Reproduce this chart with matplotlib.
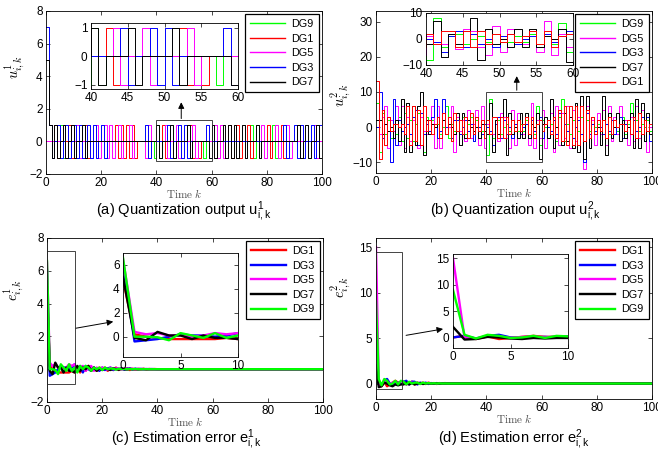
import matplotlib
matplotlib.use("Agg")
import matplotlib.pyplot as plt
from matplotlib.patches import Rectangle
import numpy as np

plt.rcParams.update({
    "font.family": ["Liberation Sans", "DejaVu Sans"],
    "mathtext.fontset": "cm",
    "font.size": 8.5,
    "axes.linewidth": 0.6,
    "xtick.direction": "in", "ytick.direction": "in",
    "xtick.top": True, "ytick.right": True,
    "xtick.major.size": 3, "ytick.major.size": 3,
    "xtick.major.width": 0.5, "ytick.major.width": 0.5,
    "xtick.major.pad": 2.5, "ytick.major.pad": 2.5,
    "legend.fontsize": 7.8,
})

# ---- data: quantization output u^1 (k = 0..100) ----
u1_dg9 = [0, 0, 0, 0, 0, 1, -1, 0, 0, 0,
          0, 0, 0, 0, 1, -1, 0, 0, 0, 0,
          0, 0, 0, 0, 0, 0, 0, 0, 0, 0,
          0, 0, 0, 0, 0, 0, 0, 0, 0, -1,
          1, -1, 0, 0, 0, 0, 0, 0, 0, 0,
          0, 0, 0, 0, 0, 0, 0, -1, 0, -1,
          0, 0, 0, 0, 0, 0, 0, 0, 0, 0,
          0, 0, 0, 0, 1, -1, 0, 0, 0, 0,
          0, 0, 1, -1, 0, 0, 0, 0, 0, 0,
          0, 0, 0, 0, 0, 0, 0, 0, 0, 0, 0]
u1_dg1 = [0, 0, 0, 1, -1, 0, 0, 0, 1, -1,
          0, 0, 0, 0, 1, -1, 0, 0, 0, 0,
          0, 0, 0, 0, 0, 1, -1, 1, -1, 1,
          -1, 1, -1, 0, 0, 0, 0, 0, 0, 0,
          0, 0, 1, -1, 0, 0, 0, 0, 0, 0,
          0, 0, 1, -1, 0, -1, 0, 0, 0, 0,
          0, 0, 0, 0, 0, 0, 1, -1, 0, 1,
          -1, 0, 0, 1, -1, 0, 0, 0, 0, 0,
          1, -1, 0, 0, 0, 1, -1, 0, 0, 0,
          0, 0, 0, 0, 0, 0, 0, 0, 0, 0, 0]
u1_dg5 = [0, 0, 0, 0, 0, 0, 1, -1, 0, 0,
          0, 1, -1, 0, 0, 0, 0, 0, 1, -1,
          0, 1, -1, 1, -1, 0, 1, -1, 0, 0,
          1, -1, 0, 0, 0, 0, -1, 1, 0, 0,
          0, 0, 0, 1, -1, 0, 0, 1, -1, 0,
          0, 0, 0, 1, -1, 0, 0, 0, 0, 0,
          0, 1, -1, 1, -1, 0, 0, 0, 0, 0,
          0, 0, 0, 0, 0, 0, 0, 0, 1, -1,
          0, 0, 0, 1, -1, 0, 0, 1, -1, 0,
          0, 0, 0, 0, 0, 0, 0, 1, -1, 0, 0]
u1_dg3 = [7, 1, -1, 0, 1, -1, 0, 1, -1, 0,
          1, -1, 1, -1, 0, 1, -1, 1, -1, 0,
          1, -1, 0, 0, 0, 0, 0, 0, 0, 0,
          0, 0, 0, 0, 0, 0, 1, -1, 0, 0,
          0, 0, 0, 0, 1, -1, 0, 0, 1, -1,
          1, -1, 0, 0, 0, 0, 0, 0, 1, -1,
          0, 0, 0, 0, 0, 0, 0, 0, 0, 0,
          0, 0, 0, 0, 0, 0, 0, 0, 0, 0,
          0, 0, 0, 0, 0, 0, 1, -1, 0, 0,
          1, -1, 1, -1, 0, 0, 1, -1, 0, 1, -1]
u1_dg7 = [5, 1, -1, 1, -1, 0, 1, -1, 0, 1,
          -1, 0, 0, 1, -1, 0, 0, 0, 0, 0,
          0, 0, 0, 0, 0, 0, 0, 0, 0, 0,
          0, 0, 0, 0, 0, 0, 0, 0, 0, 0,
          1, -1, 0, 0, 0, 1, -1, 0, 0, 0,
          0, 1, -1, 0, 0, 0, 0, 0, 0, -1,
          1, -1, 0, 0, 1, -1, 1, -1, 1, -1,
          0, 1, -1, 0, 0, 0, 1, -1, 0, 0,
          0, 0, 0, 0, 0, 0, 0, 0, 0, 0,
          0, 1, -1, 0, 1, -1, 0, 0, 1, -1, 0]

# ---- data: quantization output u^2 ----
u2_dg9 = [7, -7, 4, -2, 2, -3, 1, -2, 3, -4,
          4, -3, 2, -4, 1, 4, -5, -7, 3, -1,
          2, -6, 1, -2, 0, 6, -3, 1, -1, 2,
          -2, 3, -2, 1, 3, -4, 2, 0, -1, 1,
          -8, 8, -3, 1, 2, -2, 0, 1, -1, 2,
          0, -1, 1, -1, 2, -2, 3, -2, 6, -5,
          2, 0, -3, 1, 2, -4, 3, 8, -4, 1,
          -2, 2, 0, -1, 3, -4, 2, -1, 1, 0,
          1, -1, 2, 1, -2, 2, 0, -1, 1, 3,
          -2, 1, 7, -4, 2, -1, 1, 0, 2, -1, 0]
u2_dg5 = [0, -2, 3, 6, -6, 2, -1, 6, -5, 6,
          -6, 3, -4, 2, 5, -6, 3, -1, -2, 2,
          6, -6, 6, -6, 4, -2, 0, 6, -7, 3,
          -1, 2, -4, 5, -3, 1, 5, -5, 6, -6,
          1, -1, -2, 2, -4, 4, 3, -3, -6, 5,
          -5, 4, -2, -2, 3, -5, 7, -6, 2, -3,
          5, -6, 2, 4, -7, 6, -5, 4, -3, 6,
          -6, 5, -4, 3, 6, -12, 6, -3, 2, -5,
          4, -2, 5, -5, 6, -4, 3, -2, 6, -3,
          2, -5, 3, -4, 6, -3, 5, -4, -7, 0, 1]
u2_dg3 = [0, 10, -3, 1, 3, -10, 8, -5, 2, -1,
          0, 1, -2, 3, 5, -5, 4, -2, 1, -1,
          3, 8, -3, -1, 8, 0, 1, -3, 2, 2,
          -2, 0, 2, -1, 1, -4, 3, 0, -2, 1,
          0, -1, -5, 1, 3, -3, 2, -2, 0, -3,
          1, 2, -2, 0, 1, -3, 2, -1, 1, 3,
          -3, 1, 0, -1, 2, -2, 4, -4, 1, -1,
          3, -3, 0, 2, -2, -10, 4, -2, 1, -1,
          2, 0, -2, 1, -1, 2, -2, 0, 3, -3,
          1, 0, -2, 2, -1, 0, 3, -4, 3, -4, 0]
u2_dg7 = [2, 2, -2, 1, -1, 0, -3, 2, -4, 8,
          -7, 7, -7, 6, -5, 6, 10, -8, 2, -2,
          1, 0, 3, -3, 2, -2, 1, 0, -2, 4,
          -5, 4, -3, 2, 0, -1, 0, -3, 1, -1,
          -2, 7, -7, 2, -2, 3, 8, -8, 4, -2,
          0, -3, 4, -3, 4, -3, 1, 0, 4, -9,
          1, 3, -3, 8, -6, 0, 5, -5, 4, -4,
          3, -6, 7, -7, 9, -9, 9, -6, 3, -2,
          0, -5, 9, -8, 4, -3, 0, 4, -4, 2,
          -3, 0, 4, -6, 8, -6, 7, -4, 4, -2, 4]
u2_dg1 = [13, -9, 5, -5, 3, -1, 1, 1, 0, 1,
          -2, 6, -5, 6, -4, 5, -5, 6, -1, 2,
          -2, 1, 3, -3, 4, -2, 3, -4, 4, -1,
          2, -2, 3, -3, 4, -2, 3, -1, 2, -3,
          2, -2, 3, 3, -3, 3, -3, 3, -2, 2,
          -1, 2, -1, 1, 3, -2, 3, -3, 1, 2,
          -1, 1, 2, -2, 3, -3, 5, -4, 6, -5,
          6, -5, 6, -5, 6, -4, 5, -3, 3, -2,
          2, -1, 2, -3, 3, -2, 2, 0, 1, 1,
          -1, 2, -2, 3, -3, 4, -2, 2, -1, 1, 1]

# ---- data: estimation errors, k = 0..40, then settled ----
settled_tail = [0.0, 0.0, 0.0, 0.0, 0.0, 0.0, 0.0, 0.0, 0.0, 0.0,
                0.0, 0.0, 0.0, 0.0, 0.0, 0.0, 0.0, 0.0, 0.0, 0.0,
                0.0, 0.0, 0.0, 0.0, 0.0, 0.0, 0.0, 0.0, 0.0, 0.0,
                0.0, 0.0, 0.0, 0.0, 0.0, 0.0, 0.0, 0.0, 0.0, 0.0,
                0.0, 0.0, 0.0, 0.0, 0.0, 0.0, 0.0, 0.0, 0.0, 0.0,
                0.0, 0.0, 0.0, 0.0, 0.0, 0.0, 0.0, 0.0, 0.0, 0.0]

e1_dg1 = [4.8, 0.2, 0.0, -0.1, -0.2, -0.2, -0.2, -0.2, -0.2, -0.1,
          -0.2, 0.1, -0.2, 0.1, -0.1, 0.2, -0.1, 0.1, -0.1, 0.1,
          0.0, 0.1, -0.1, 0.05, -0.05, 0.1, -0.05, 0.05, 0.0, 0.05,
          -0.05, 0.03, -0.03, 0.02, 0.0, 0.02, -0.02, 0.01, 0.0, 0.01, 0.0]
e1_dg3 = [6.0, -0.4, -0.3, -0.2, 0.0, 0.2, 0.1, 0.1, 0.0, 0.1,
          0.3, -0.1, 0.2, -0.2, 0.2, 0.0, -0.1, 0.1, 0.0, -0.1,
          0.1, -0.05, 0.05, 0.1, -0.05, 0.05, 0.0, 0.05, -0.03, 0.03,
          0.05, -0.02, 0.03, 0.0, 0.02, -0.01, 0.01, 0.0, 0.01, 0.0, 0.0]
e1_dg5 = [6.5, 0.4, 0.2, 0.3, 0.1, 0.1, 0.0, 0.1, 0.3, 0.2,
          0.3, -0.1, 0.1, 0.2, -0.1, 0.1, 0.2, -0.1, 0.1, 0.0,
          0.1, 0.05, -0.05, 0.1, 0.0, 0.05, 0.05, -0.03, 0.05, 0.0,
          0.03, 0.02, -0.02, 0.02, 0.0, 0.01, 0.0, 0.01, 0.0, 0.0, 0.0]
e1_dg7 = [5.0, -0.1, -0.3, 0.4, 0.1, 0.1, -0.2, 0.1, -0.1, -0.1,
          -0.2, 0.2, -0.1, 0.1, 0.0, 0.2, -0.1, 0.1, -0.1, 0.05,
          -0.05, 0.05, 0.0, -0.05, 0.05, 0.0, -0.03, 0.03, 0.0, -0.02,
          0.02, 0.0, 0.01, -0.01, 0.0, 0.01, 0.0, 0.0, 0.0, 0.0, 0.0]
e1_dg9 = [6.6, 0.0, 0.0, -0.05, -0.3, 0.3, 0.1, -0.1, 0.3, -0.1,
          0.1, -0.2, 0.2, 0.0, 0.2, 0.1, -0.1, 0.1, 0.0, 0.1,
          -0.05, 0.1, 0.0, 0.05, 0.02, -0.02, 0.03, 0.0, 0.02, 0.0,
          0.01, 0.0, 0.01, 0.0, 0.0, 0.0, 0.0, 0.0, 0.0, 0.0, 0.0]

e2_dg1 = [0.0, 0.3, -0.3, 0.2, -0.3, -0.1, 0.1, 0.3, 0.1, 0.1,
          0.2, -0.1, 0.1, 0.2, -0.1, 0.1, 0.0, 0.1, -0.05, 0.1,
          0.0, 0.05, -0.05, 0.05, 0.0, 0.05, 0.0, 0.03, -0.02, 0.02,
          0.0, 0.01, 0.0, 0.01, 0.0, 0.0, 0.0, 0.0, 0.0, 0.0, 0.0]
e2_dg3 = [0.0, 0.3, -0.2, 0.3, 0.5, 0.0, -0.1, 0.0, 0.1, 0.0,
          0.2, 0.3, -0.1, 0.2, 0.2, -0.1, 0.1, 0.0, 0.1, -0.05,
          0.05, 0.0, 0.05, -0.03, 0.03, 0.0, 0.02, 0.0, 0.01, 0.0,
          0.01, 0.0, 0.0, 0.0, 0.0, 0.0, 0.0, 0.0, 0.0, 0.0, 0.0]
e2_dg5 = [15.0, 0.0, -0.2, 0.2, 0.2, -0.1, 0.1, 0.2, 0.0, 0.2,
          0.1, -0.1, 0.1, 0.1, 0.0, 0.1, -0.05, 0.05, 0.0, 0.05,
          -0.02, 0.03, 0.0, 0.02, 0.0, 0.01, 0.0, 0.01, 0.0, 0.0,
          0.0, 0.0, 0.0, 0.0, 0.0, 0.0, 0.0, 0.0, 0.0, 0.0, 0.0]
e2_dg7 = [2.0, -0.4, -0.3, 0.1, 0.0, -0.2, -0.3, -0.1, -0.2, -0.1,
          -0.1, 0.1, -0.1, 0.05, -0.1, 0.0, 0.05, -0.05, 0.0, 0.03,
          -0.02, 0.0, 0.02, -0.01, 0.0, 0.01, 0.0, 0.0, 0.0, 0.0,
          0.0, 0.0, 0.0, 0.0, 0.0, 0.0, 0.0, 0.0, 0.0, 0.0, 0.0]
e2_dg9 = [9.0, 0.5, -0.2, 0.5, 0.3, -0.1, 0.0, 0.3, -0.1, 0.3,
          0.2, -0.1, 0.2, 0.0, 0.1, 0.1, -0.05, 0.1, 0.0, 0.05,
          0.0, 0.03, 0.0, 0.02, 0.0, 0.01, 0.0, 0.0, 0.0, 0.0,
          0.0, 0.0, 0.0, 0.0, 0.0, 0.0, 0.0, 0.0, 0.0, 0.0, 0.0]

COL = {"DG1": "#ff0000", "DG3": "#0000ff", "DG5": "#ff00ff",
       "DG7": "#000000", "DG9": "#00ff00"}
k = np.arange(101)

W, H = 658, 455
fig = plt.figure(figsize=(W / 100, H / 100), dpi=100)


def box(l, t, r, b):
    return [l / W, 1 - b / H, (r - l) / W, (b - t) / H]


def style(ax):
    for s in ax.spines.values():
        s.set_linewidth(0.6)


def legend(ax, lw):
    leg = ax.legend(loc="upper right", borderaxespad=0.3, fancybox=False,
                    framealpha=1, edgecolor="k", handlelength=3.2,
                    labelspacing=0.42, borderpad=0.45, handletextpad=0.6)
    leg.get_frame().set_linewidth(0.9)
    for h in leg.get_lines():
        h.set_linewidth(lw)


def panel(rect, series, step, lw, ylim, yticks, ylab, ylab_pos,
          inset_rect, ixlim, iylim, iyticks, ixticks, zoom_box, arrow):
    ax = fig.add_axes(box(*rect))
    for name, vals in series:
        if step:
            ax.step(k, vals, where="post", color=COL[name], lw=lw, label=name)
        else:
            ax.plot(k, vals, color=COL[name], lw=lw, label=name)
    ax.set_xlim(0, 100)
    ax.set_ylim(*ylim)
    ax.set_yticks(yticks)
    ax.set_xticks([0, 20, 40, 60, 80, 100])
    ax.set_xlabel(r"$\mathrm{Time}\ k$", fontsize=8, color="0.3", labelpad=-1.8)
    ax.set_ylabel(ylab, fontsize=10.5)
    ax.yaxis.set_label_coords(*ylab_pos)
    style(ax)
    (x0, y0), wd, ht = zoom_box
    ax.add_patch(Rectangle((x0, y0), wd, ht, fill=False, ec="0.15", lw=0.6,
                           zorder=5))
    ax.annotate("", xy=arrow[1], xytext=arrow[0],
                arrowprops=dict(arrowstyle="-|>", color="k", lw=0.7,
                                mutation_scale=9, shrinkA=0, shrinkB=0),
                zorder=6)
    legend(ax, lw if not step else 1.0)

    ins = fig.add_axes(box(*inset_rect))
    for name, vals in series:
        if step:
            ins.step(k, vals, where="post", color=COL[name], lw=lw)
        else:
            ins.plot(k, vals, color=COL[name], lw=lw)
    ins.set_xlim(*ixlim)
    ins.set_ylim(*iylim)
    ins.set_yticks(iyticks)
    ins.set_xticks(ixticks)
    style(ins)
    return ax


panel((46, 11, 322, 174),
      [("DG9", u1_dg9), ("DG1", u1_dg1), ("DG5", u1_dg5),
       ("DG3", u1_dg3), ("DG7", u1_dg7)],
      True, 0.7, (-2, 8), [-2, 0, 2, 4, 6, 8],
      r"$u^1_{i,k}$", (-0.07, 0.656),
      (91, 23, 238, 89), (40, 60), (-1.15, 1.17), [-1, 0, 1],
      [40, 45, 50, 55, 60], ((40, -1.2), 20, 2.5), ((49, 1.4), (49, 2.4)))

panel((376, 11, 652, 173),
      [("DG9", u2_dg9), ("DG5", u2_dg5), ("DG3", u2_dg3),
       ("DG7", u2_dg7), ("DG1", u2_dg1)],
      True, 0.7, (-13, 33), [-10, 0, 10, 20, 30],
      r"$u^2_{i,k}$", (-0.085, 0.48),
      (426, 13, 573, 65), (40, 60), (-10, 10), [-10, 0, 10],
      [40, 45, 50, 55, 60], ((40, -10), 20, 20), ((51, 10.5), (51, 14.5)))

e1 = [("DG1", e1_dg1 + settled_tail), ("DG3", e1_dg3 + settled_tail),
      ("DG5", e1_dg5 + settled_tail), ("DG7", e1_dg7 + settled_tail),
      ("DG9", e1_dg9 + settled_tail)]
panel((47, 238, 323, 402), e1, False, 1.7, (-2, 8),
      [-2, 0, 2, 4, 6, 8], r"$e^1_{i,k}$", (-0.075, 0.683),
      (123, 253, 238, 357), (0, 10), (-1.7, 7), [0, 2, 4, 6], [0, 5, 10],
      ((0, -0.9), 10, 8.1), ((10.5, 2.5), (24, 2.9)))

e2 = [("DG1", e2_dg1 + settled_tail), ("DG3", e2_dg3 + settled_tail),
      ("DG5", e2_dg5 + settled_tail), ("DG7", e2_dg7 + settled_tail),
      ("DG9", e2_dg9 + settled_tail)]
panel((376, 238, 652, 399), e2, False, 1.7, (-1.7, 16),
      [0, 5, 10, 15], r"$e^2_{i,k}$", (-0.085, 0.696),
      (453, 254, 568, 348), (0, 10), (-2, 15.8), [0, 5, 10, 15], [0, 5, 10],
      ((0, -0.6), 9.5, 15.1), ((10.9, 5.3), (24.3, 6.0)))

caps = [(184, 215, r"(a) Quantization output $\mathregular{u^1_{i,k}}$"),
        (516, 215, r"(b) Quantization ouput $\mathregular{u^2_{i,k}}$"),
        (186, 443, r"(c) Estimation error $\mathregular{e^1_{i,k}}$"),
        (514, 444, r"(d) Estimation error $\mathregular{e^2_{i,k}}$")]
for x, y, s in caps:
    fig.text(x / W, 1 - y / H, s, ha="center", va="baseline", fontsize=10.5)

fig.savefig("out.png", dpi=100)
